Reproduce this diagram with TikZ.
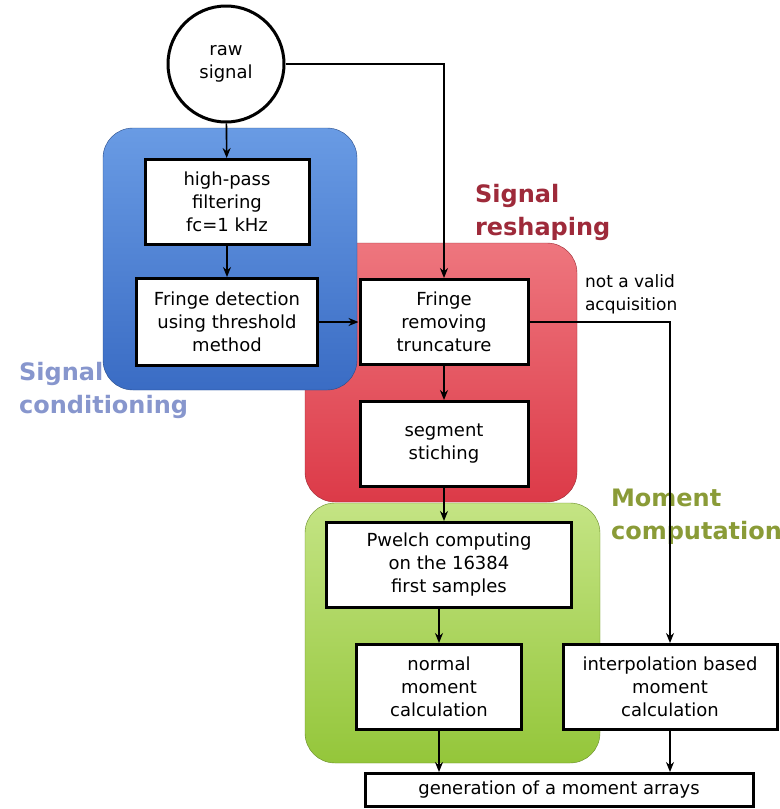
\documentclass[tikz,border=0pt]{standalone}
\usepackage{fontspec}
\setmainfont{DejaVu Sans}
\usepackage{xcolor}
\usepackage{tikz}
\usetikzlibrary{arrows.meta, positioning, calc}
\definecolor{condcolor}{RGB}{58,108,196}
\definecolor{condlight}{RGB}{105,155,228}
\definecolor{reshcolor}{RGB}{220,58,72}
\definecolor{reshlight}{RGB}{238,118,126}
\definecolor{momcolor}{RGB}{148,198,58}
\definecolor{momlight}{RGB}{196,228,132}
\definecolor{condtext}{RGB}{135,150,205}
\definecolor{reshtext}{RGB}{158,42,58}
\definecolor{momtext}{RGB}{138,155,55}

\begin{document}
\begin{tikzpicture}[
    x=0.5pt, y=-0.5pt,
    >={Stealth[length=5pt, width=4pt]},
    stagebox/.style={draw, fill=white, line width=1.5pt, align=center, inner sep=2pt,
        font=\fontsize{9}{11.5}\selectfont},
    grouplabel/.style={anchor=west, align=left, font=\bfseries\fontsize{12}{16.5}\selectfont},
    flow/.style={->, line width=0.8pt},
]
    \useasboundingbox (0,0) rectangle (780,809);

    % Group backgrounds
    \shade[top color=momlight, bottom color=momcolor, draw=momcolor!70!black, very thin, rounded corners=15pt]
        (305,503) rectangle (600,763);
    \shade[top color=reshlight, bottom color=reshcolor, draw=reshcolor!70!black, very thin, rounded corners=15pt]
        (305,243) rectangle (577,502);
    \shade[top color=condlight, bottom color=condcolor, draw=condcolor!70!black, very thin, rounded corners=15pt]
        (103,128) rectangle (357,390);

    % Group labels
    \node[grouplabel, text=condtext] (lcond) at (12,390) {Signal\\conditioning};
    \node[grouplabel, text=reshtext] (lresh) at (468,212) {Signal\\reshaping};
    \node[grouplabel, text=momtext] (lmom) at (604,517) {Moment\\computation};

    % Input
    \node[draw, circle, line width=1.5pt, fill=white, minimum size=58pt, align=center,
        font=\fontsize{9}{11.5}\selectfont] (raw) at (226,64) {raw\\signal};

    % Signal conditioning
    \node[stagebox, minimum width=82pt, minimum height=42.5pt] (hp) at (227,202) {high-pass\\filtering\\fc=1 kHz};
    \node[stagebox, minimum width=90.5pt, minimum height=43.5pt] (fd) at (227,322) {Fringe detection\\using threshold\\method};

    % Signal reshaping
    \node[stagebox, minimum width=84pt, minimum height=42.5pt] (fr) at (444,322) {Fringe\\removing\\truncature};
    \node[stagebox, minimum width=84pt, minimum height=42.5pt] (seg) at (444,444) {segment\\stiching};

    % Moment computation
    \node[stagebox, minimum width=122.5pt, minimum height=42.5pt] (pw) at (449,565) {Pwelch computing\\on the 16384\\first samples};
    \node[stagebox, minimum width=82.5pt, minimum height=42.5pt] (nm) at (439,687) {normal\\moment\\calculation};
    \node[stagebox, minimum width=107pt, minimum height=42.5pt] (ip) at (670,687) {interpolation based\\moment\\calculation};
    \node[stagebox, minimum width=194pt, minimum height=16.5pt] (gen) at (559,790) {generation of a moment arrays};

    % Note
    \node[anchor=west, align=left, font=\fontsize{8.5}{11.5}\selectfont] (note) at (578,294) {not a valid\\acquisition};

    % Arrows
    \draw[flow] (raw) -- (hp);
    \draw[flow] (hp) -- (fd);
    \draw[flow] (fd) -- (fr);
    \draw[flow] (raw) -| (fr);
    \draw[flow] (fr) -- (seg);
    \draw[flow] (seg.south) -- (seg.south |- pw.north);
    \draw[flow] (pw.south -| nm.north) -- (nm.north);
    \draw[flow] (fr.east) -| (ip.north);
    \draw[flow] (nm.south) -- (nm.south |- gen.north);
    \draw[flow] (ip.south) -- (ip.south |- gen.north);
\end{tikzpicture}
\end{document}
